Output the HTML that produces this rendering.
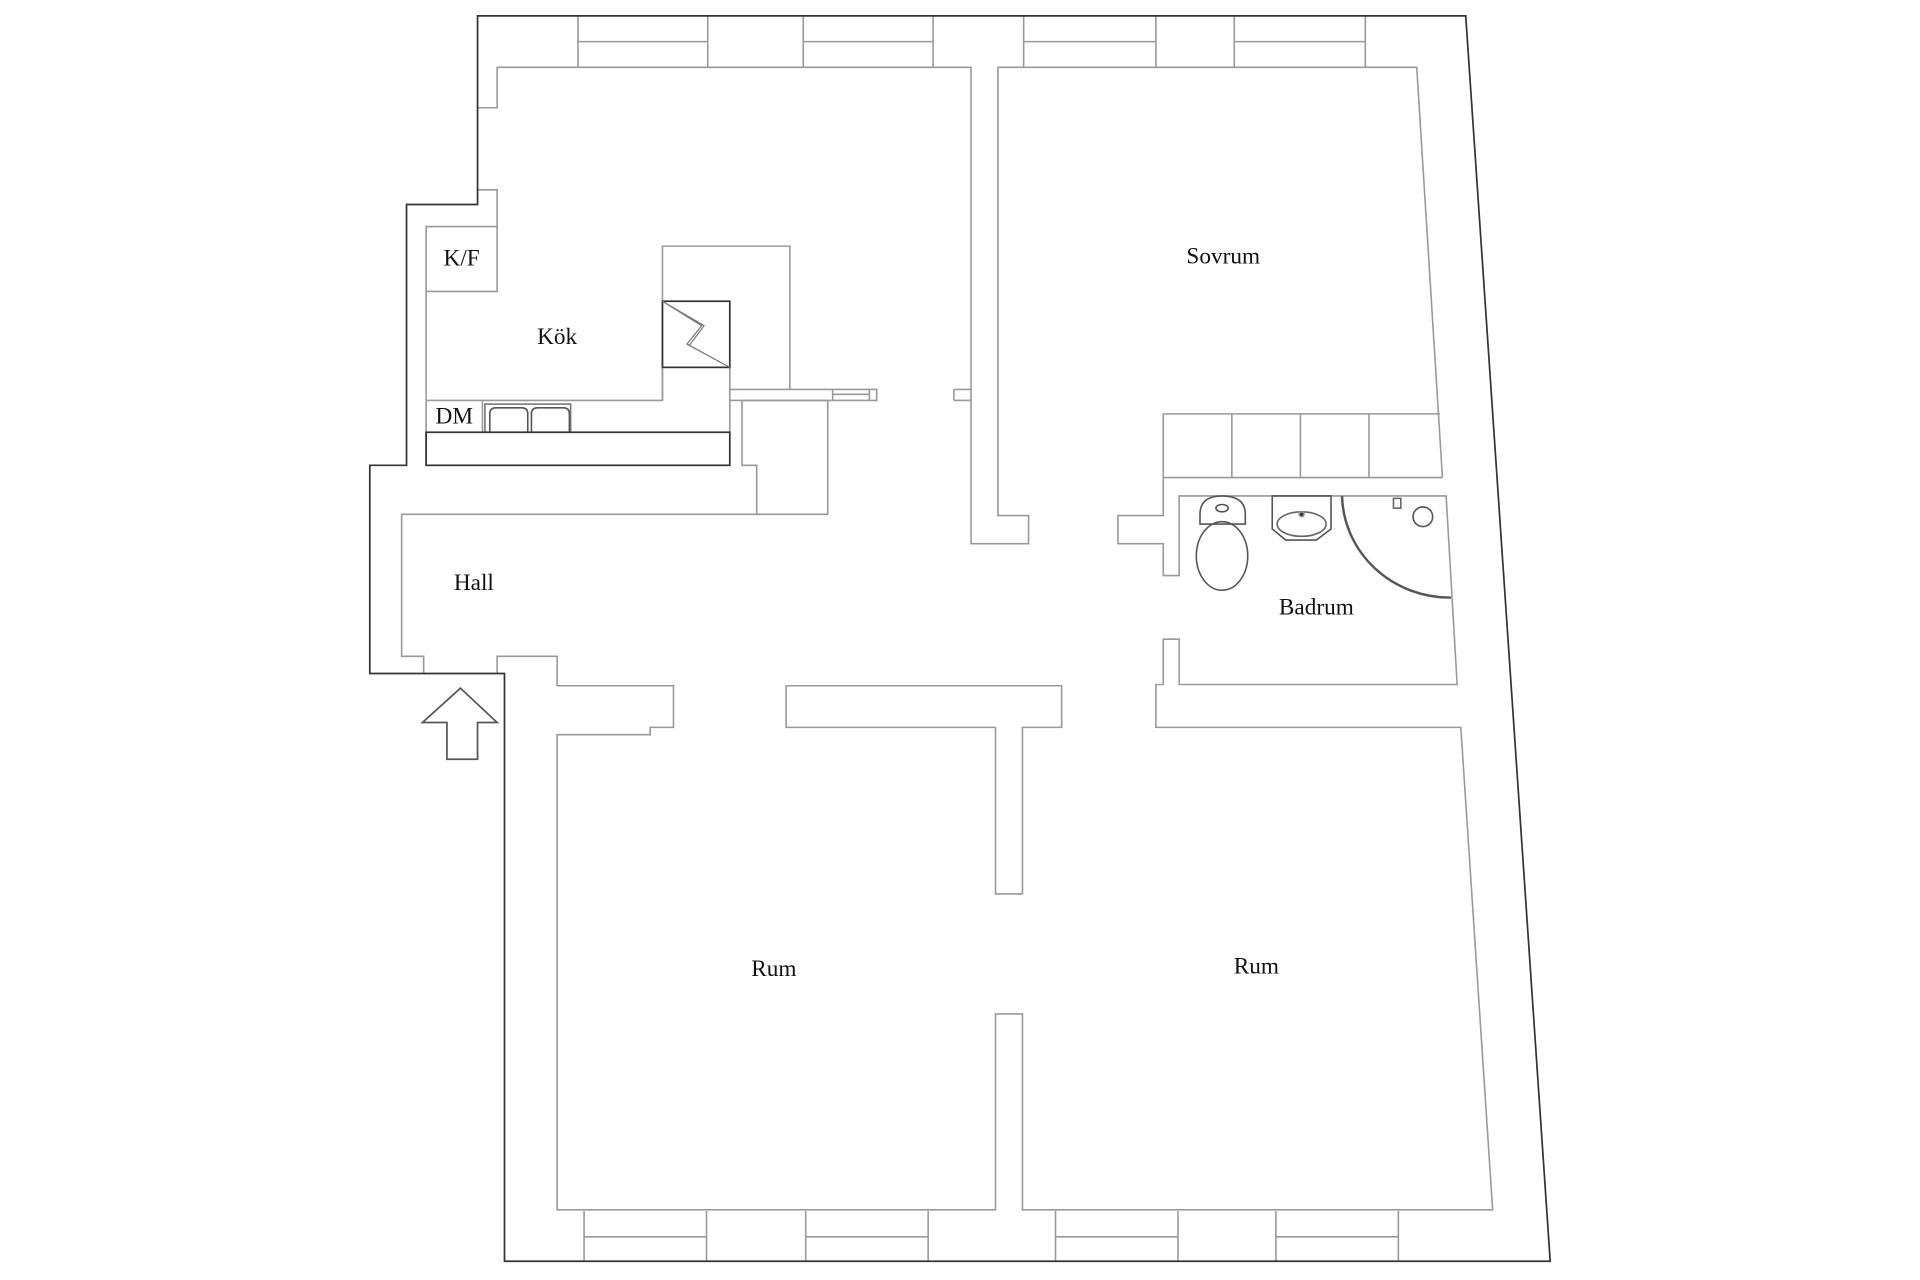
<!DOCTYPE html>
<html><head><meta charset="utf-8">
<style>
html,body{margin:0;padding:0;background:#fff;}
svg{display:block;}
text{font-family:"Liberation Serif",serif;font-size:19px;fill:#111;text-anchor:middle;}
</style></head>
<body>
<svg width="1920" height="1280" viewBox="0 0 1568 1045.3" preserveAspectRatio="none" xmlns="http://www.w3.org/2000/svg">
<g fill="none" stroke="#999" stroke-width="1.3">
  <path d="M472,13V55M578,13V55M472,34H578M656,13V55M762,13V55M656,34H762M836,13V55M944,13V55M836,34H944M1008,13V55M1115,13V55M1008,34H1115"/>
  <path d="M477,989V1030M577,989V1030M477,1010H577M658,989V1030M758,989V1030M658,1010H758M862,989V1030M962,989V1030M862,1010H962M1042,989V1030M1142,989V1030M1042,1010H1142"/>
  <path d="M390,88H406V55H793V444H840V421H815V55H1157L1178,390"/>
  <path d="M390,155H406V185H348V380"/>
  <path d="M406,185V238H348"/>
  <path d="M779,318H793M779,327H793M779,318V327"/>
  <path d="M348,327H541V201H645V318"/>
  <path d="M596,318H716V327H596M680,318V327M710,318V327M680,322H710"/>
  <path d="M606,327H676V420H328V536H346V550"/>
  <path d="M606,327V380H618V420"/>
  <path d="M541,300V327M596,300V353"/>
  <path d="M394,327V353"/>
  <path d="M950,390V338H1176M950,390H1178M1006,338V390M1062,338V390M1118,338V390"/>
  <path d="M950,390V421H913V444H950V470H963V405H1181L1190,559H963V522H950V559H944V594H1193L1219,988H835V828H813V988H455V600H531V594H550V560H455V536H406V550"/>
  <path d="M642,594V560H867V594H835V730H813V594Z"/>
  <rect x="396" y="330" width="70" height="23" stroke="#777"/>
  <path d="M400,353V338Q400,333 405,333H426Q431,333 431,338V353M434,353V338Q434,333 439,333H460Q465,333 465,338V353" stroke="#555"/>
  <path d="M980,420Q980,405 998,405Q1017,405 1017,420V428H980Z" stroke="#555"/>
  <ellipse cx="998" cy="454" rx="21" ry="28" stroke="#555"/>
  <ellipse cx="998" cy="415" rx="5" ry="3" stroke="#555"/>
  <path d="M1039,405H1087V432L1075,441H1050L1039,432Z" stroke="#555"/>
  <ellipse cx="1063" cy="428" rx="20" ry="10" stroke="#666"/>
  <circle cx="1063" cy="420" r="2" fill="#333"/>
  <path d="M1096,405A88,85 0 0 0 1185,488" stroke="#555" stroke-width="2"/>
  <circle cx="1162" cy="422" r="8" stroke="#555"/>
  <rect x="1138" y="407" width="6" height="8" stroke="#666"/>
</g>
<g fill="none" stroke="#333" stroke-width="1.4">
  <path d="M390,13H1197L1266,1030H412V550H302V380H332V167H390Z"/>
  <rect x="348" y="353" width="248" height="27"/>
  <rect x="541" y="246" width="55" height="54"/>
  <path d="M345,590L376,562L406,590H390V620H365V590Z" stroke="#555"/>
</g>
<path d="M541,246L573,266L561,281L596,300L563,282L575,266Z" fill="none" stroke="#777" stroke-width="1"/>
<text x="999" y="215">Sovrum</text>
<text x="455" y="281">Kök</text>
<text x="377" y="217">K/F</text>
<text x="371" y="346">DM</text>
<text x="387" y="482">Hall</text>
<text x="1075" y="502">Badrum</text>
<text x="632" y="797">Rum</text>
<text x="1026" y="795">Rum</text>
</svg>
</body></html>
